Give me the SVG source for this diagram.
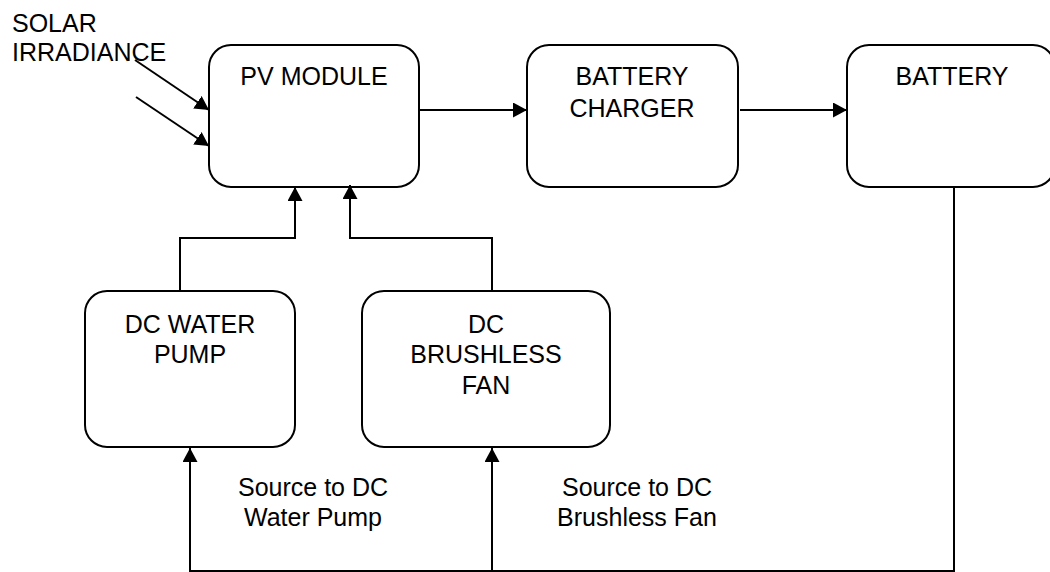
<svg xmlns="http://www.w3.org/2000/svg" width="1050" height="572" viewBox="0 0 1050 572">
<style>
.box{fill:#fff;stroke:#000;stroke-width:2}
.t{font-family:"Liberation Sans",Arial,sans-serif;font-size:25px;fill:#000;text-anchor:middle}
.tl{font-family:"Liberation Sans",Arial,sans-serif;font-size:25px;fill:#000}
.c{fill:none;stroke:#000;stroke-width:2}
</style>
<defs>
<marker id="ah" markerUnits="userSpaceOnUse" markerWidth="16" markerHeight="16" refX="14" refY="7.5" orient="auto">
<path d="M0,0 L14,7.5 L0,15 z" fill="#000"/>
</marker>
</defs>
<rect width="1050" height="572" fill="#fff"/>
<g id="solar-label">
<text class="tl" x="12" y="32">SOLAR</text>
<text class="tl" x="12" y="61">IRRADIANCE</text>
</g>
<g id="pv-module">
<rect class="box" x="209" y="45" width="210" height="142" rx="22"/>
<text class="t" x="314" y="85">PV MODULE</text>
</g>
<g id="battery-charger">
<rect class="box" x="527" y="45" width="211" height="142" rx="22"/>
<text class="t" x="632" y="85">BATTERY</text>
<text class="t" x="632" y="117">CHARGER</text>
</g>
<g id="battery">
<rect class="box" x="847" y="45" width="208" height="142" rx="22"/>
<text class="t" x="952" y="85">BATTERY</text>
</g>
<g id="dc-water-pump">
<rect class="box" x="85" y="291" width="210" height="156" rx="22"/>
<text class="t" x="190" y="333">DC WATER</text>
<text class="t" x="190" y="363">PUMP</text>
</g>
<g id="dc-brushless-fan">
<rect class="box" x="362" y="291" width="248" height="156" rx="22"/>
<text class="t" x="486" y="333">DC</text>
<text class="t" x="486" y="363">BRUSHLESS</text>
<text class="t" x="486" y="394">FAN</text>
</g>
<g id="labels">
<text class="t" x="313" y="496">Source to DC</text>
<text class="t" x="313" y="526">Water Pump</text>
<text class="t" x="637" y="496">Source to DC</text>
<text class="t" x="637" y="526">Brushless Fan</text>
</g>
<g id="connectors">
<line class="c" x1="135" y1="60" x2="209" y2="110" marker-end="url(#ah)"/>
<line class="c" x1="136" y1="97" x2="209" y2="146" marker-end="url(#ah)"/>
<line class="c" x1="419" y1="110" x2="527" y2="110" marker-end="url(#ah)"/>
<line class="c" x1="740" y1="110" x2="847" y2="110" marker-end="url(#ah)"/>
<polyline class="c" points="180,291 180,238 295,238 295,187" marker-end="url(#ah)"/>
<polyline class="c" points="492,291 492,238 350,238 350,185" marker-end="url(#ah)"/>
<polyline class="c" points="954,187 954,571 190,571 190,448" marker-end="url(#ah)"/>
<line class="c" x1="492" y1="571" x2="492" y2="448" marker-end="url(#ah)"/>
</g>
</svg>
